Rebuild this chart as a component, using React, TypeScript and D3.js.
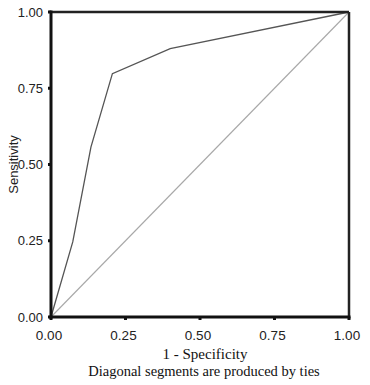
import React, { useEffect, useRef } from 'react';
import * as d3 from 'd3';

// ROC curve points: [1 - specificity, sensitivity]
const rocFpr = [0, 0.073, 0.134, 0.206, 0.40, 1];
const rocTpr = [0, 0.246, 0.557, 0.798, 0.88, 1];
const tickValues = [0, 0.25, 0.5, 0.75, 1];
const tickLabels = ['0.00', '0.25', '0.50', '0.75', '1.00'];
const xTitle = '1 - Specificity';
const yTitle = 'Sensitivity';
const footnote = 'Diagonal segments are produced by ties';

export default function App() {
  const svgRef = useRef<SVGSVGElement>(null);
  const width = 370;
  const height = 385;
  const left = 51;
  const right = 349;
  const top = 12;
  const bottom = 317;

  useEffect(() => {
    if (!svgRef.current) return;
    const svg = d3.select(svgRef.current);
    svg.selectAll('*').remove();

    const x = d3.scaleLinear().domain([0, 1]).range([left, right]);
    const y = d3.scaleLinear().domain([0, 1]).range([bottom, top]);

    svg.append('rect').attr('width', width).attr('height', height).attr('fill', '#fff');

    // reference diagonal
    svg.append('line')
      .attr('x1', x(0)).attr('y1', y(0))
      .attr('x2', x(1)).attr('y2', y(1))
      .attr('stroke', '#a8a8a8')
      .attr('stroke-width', 1.1);

    // ROC curve
    const pts = rocFpr.map((f, i) => [f, rocTpr[i]] as [number, number]);
    const line = d3.line<[number, number]>().x(d => x(d[0])).y(d => y(d[1]));
    svg.append('path')
      .datum(pts)
      .attr('d', line)
      .attr('fill', 'none')
      .attr('stroke', '#555')
      .attr('stroke-width', 1.3);

    // frame: top/right slightly thinner than the axes
    svg.append('line')
      .attr('x1', left).attr('x2', right).attr('y1', top).attr('y2', top)
      .attr('stroke', '#222').attr('stroke-width', 2.5);
    svg.append('line')
      .attr('x1', right).attr('x2', right).attr('y1', top).attr('y2', bottom)
      .attr('stroke', '#222').attr('stroke-width', 2.5);
    svg.append('line')
      .attr('x1', left).attr('x2', left).attr('y1', top - 1.5).attr('y2', bottom + 1.5)
      .attr('stroke', '#111').attr('stroke-width', 3);
    svg.append('line')
      .attr('x1', left - 1.5).attr('x2', right + 1.5).attr('y1', bottom).attr('y2', bottom)
      .attr('stroke', '#111').attr('stroke-width', 3);

    // tick bumps
    tickValues.forEach(v => {
      svg.append('rect')
        .attr('x', left - 3).attr('y', y(v) - 1.5)
        .attr('width', 3).attr('height', 3).attr('fill', '#111');
      svg.append('rect')
        .attr('x', x(v) - 1.5).attr('y', bottom)
        .attr('width', 3).attr('height', 3).attr('fill', '#111');
    });

    const sans = "'Liberation Sans', Arial, sans-serif";
    const serif = "'Liberation Serif', 'Times New Roman', serif";

    // y tick labels
    svg.append('g').selectAll('text')
      .data(tickValues)
      .enter()
      .append('text')
      .attr('x', 43)
      .attr('y', d => y(d) + 4.5)
      .attr('text-anchor', 'end')
      .style('font-family', sans)
      .attr('font-size', 13)
      .attr('fill', '#222')
      .text((d, i) => tickLabels[i]);

    // x tick labels
    svg.append('g').selectAll('text')
      .data(tickValues)
      .enter()
      .append('text')
      .attr('x', d => x(d) - 2)
      .attr('y', 340)
      .attr('text-anchor', 'middle')
      .style('font-family', sans)
      .attr('font-size', 13.5)
      .attr('fill', '#222')
      .text((d, i) => tickLabels[i]);

    // axis titles
    svg.append('text')
      .attr('transform', `translate(18,${(top + bottom) / 2}) rotate(-90)`)
      .attr('text-anchor', 'middle')
      .style('font-family', sans)
      .attr('font-size', 13)
      .attr('fill', '#222')
      .text(yTitle);

    svg.append('text')
      .attr('x', 205)
      .attr('y', 359)
      .attr('text-anchor', 'middle')
      .style('font-family', serif)
      .attr('font-size', 15)
      .attr('fill', '#111')
      .text(xTitle);

    svg.append('text')
      .attr('x', 204)
      .attr('y', 376)
      .attr('text-anchor', 'middle')
      .style('font-family', serif)
      .attr('font-size', 14.5)
      .attr('fill', '#111')
      .text(footnote);
  }, []);

  return (
    <div style={{ marginLeft: -8, marginTop: -8, width, height, overflow: 'hidden' }}>
      <svg ref={svgRef} width={width} height={height} style={{ display: 'block' }} />
    </div>
  );
}
